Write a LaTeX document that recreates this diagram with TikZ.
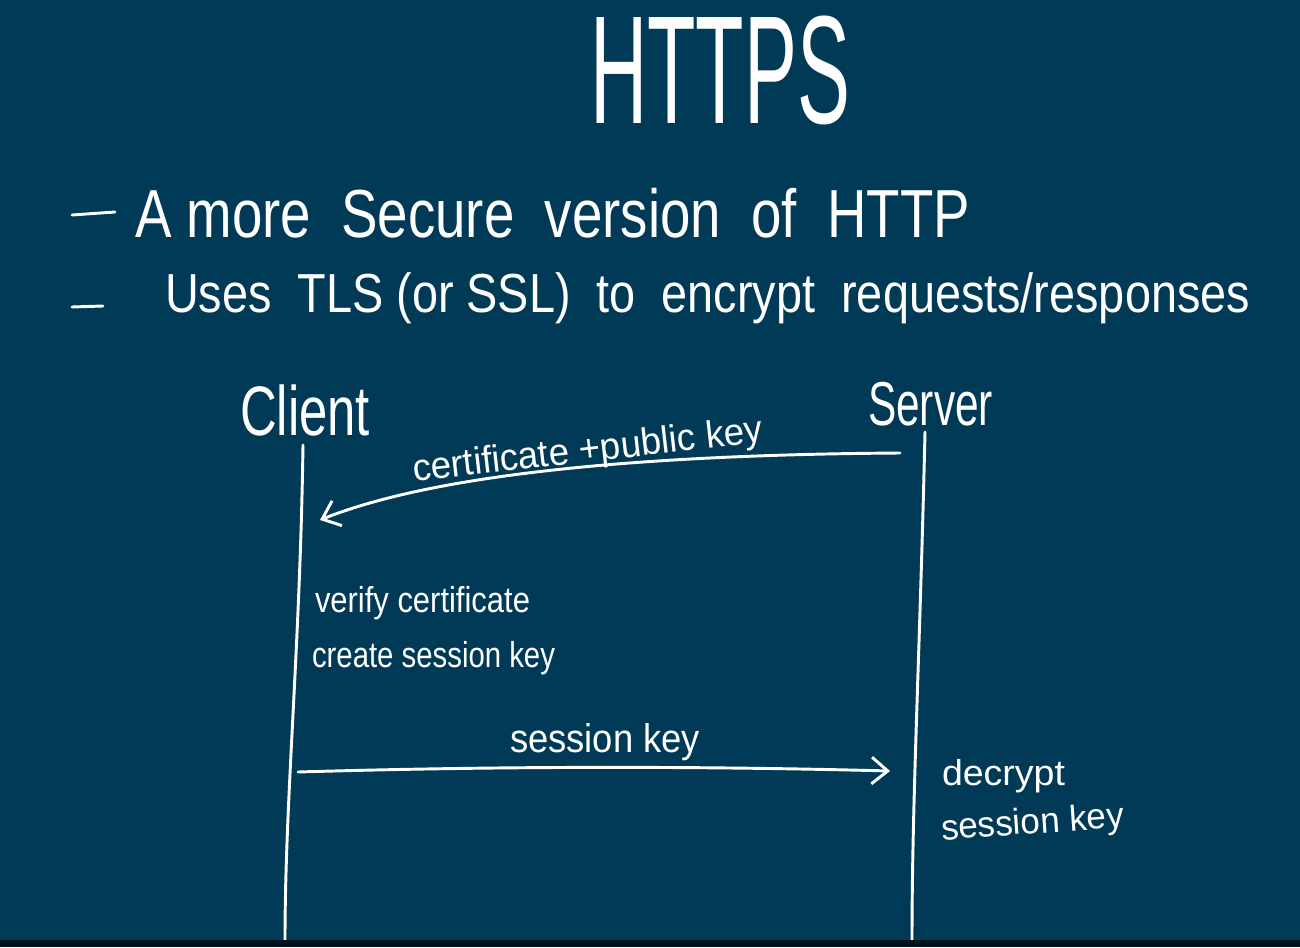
\documentclass[tikz,border=0pt]{standalone}
\usepackage{fontspec}
\setmainfont{Liberation Sans}
\usepackage{graphicx}
\usetikzlibrary{arrows.meta}
\definecolor{bg}{HTML}{003A56}
\definecolor{strip}{HTML}{00121B}
\newlength\pxu
\setlength\pxu{0.75pt}
\newcommand{\fs}[1]{\fontsize{#1\pxu}{1.2\dimexpr#1\pxu\relax}\selectfont}
\newcommand{\fitw}[2]{\resizebox{#1\pxu}{\height}{#2}}
\begin{document}
\begin{tikzpicture}[x=0.75pt,y=-0.75pt,
  ink/.style={draw=white,line width=2.2pt,line cap=round,line join=round},
  txt/.style={text=white,inner sep=0pt,outer sep=0pt},
  barb/.style={-{Straight Barb[length=12pt,width=20pt,line width=2.2pt]}}]
\fill[bg] (0,0) rectangle (1300,947);
\useasboundingbox (0,0) rectangle (1300,947);
% title
\node[txt] (title) at (720,70) {\fs{154}\fitw{260}{HTTPS}};
% bullets
\coordinate (d1a) at (72,215); \coordinate (d1b) at (115,212);
\draw[ink] (d1a) -- (d1b);
\node[txt,anchor=base west] (b1) at (135,237) {\fs{68}\fitw{835}{A more\ \ Secure\ \ version\ \ of\ \ HTTP}};
\coordinate (d2a) at (72,307); \coordinate (d2b) at (103,306);
\draw[ink] (d2a) -- (d2b);
\node[txt,anchor=base west] (b2) at (165,312) {\fs{55}\fitw{1085}{Uses\ \ TLS (or SSL)\ \ to\ \ encrypt\ \ requests/responses}};
% actors
\node[txt,anchor=base west] (client) at (240,435) {\fs{70}\fitw{130}{Client}};
\node[txt,anchor=base west] (server) at (868,425) {\fs{62}\fitw{125}{Server}};
% lifelines
\coordinate (c1) at (303,445); \coordinate (c2) at (285,940);
\coordinate (s1) at (925,432); \coordinate (s2) at (912,940);
\draw[ink] (c1) .. controls (300,650) and (285,800) .. (c2);
\draw[ink] (s1) .. controls (920,650) and (912,800) .. (s2);
% message 1
\coordinate (m1s) at (900,453); \coordinate (m1e) at (320,520);
\draw[ink,barb] (m1s) .. controls (600,455) and (420,480) .. (m1e);
\node[txt,rotate=6.5] (m1l) at (588,452) {\fs{38}\fitw{352}{certificate +public key}};
% client notes
\node[txt,anchor=base west] (n1) at (315,612) {\fs{36}\fitw{215}{verify certificate}};
\node[txt,anchor=base west] (n2) at (312,667) {\fs{36}\fitw{243}{create session key}};
% message 2
\coordinate (m2s) at (298,772); \coordinate (m2e) at (890,771);
\draw[ink,barb] (m2s) .. controls (500,766) and (700,766) .. (m2e);
\node[txt,anchor=base] (m2l) at (605,752) {\fs{40}\fitw{190}{session key}};
% server notes
\node[txt,anchor=base west] (n3) at (942,785) {\fs{36}\fitw{123}{decrypt}};
\node[txt,anchor=base west,rotate=4] (n4) at (942,840) {\fs{36}\fitw{183}{session key}};
% bottom strip
\fill[strip] (0,940) rectangle (1300,947);
\end{tikzpicture}
\end{document}
